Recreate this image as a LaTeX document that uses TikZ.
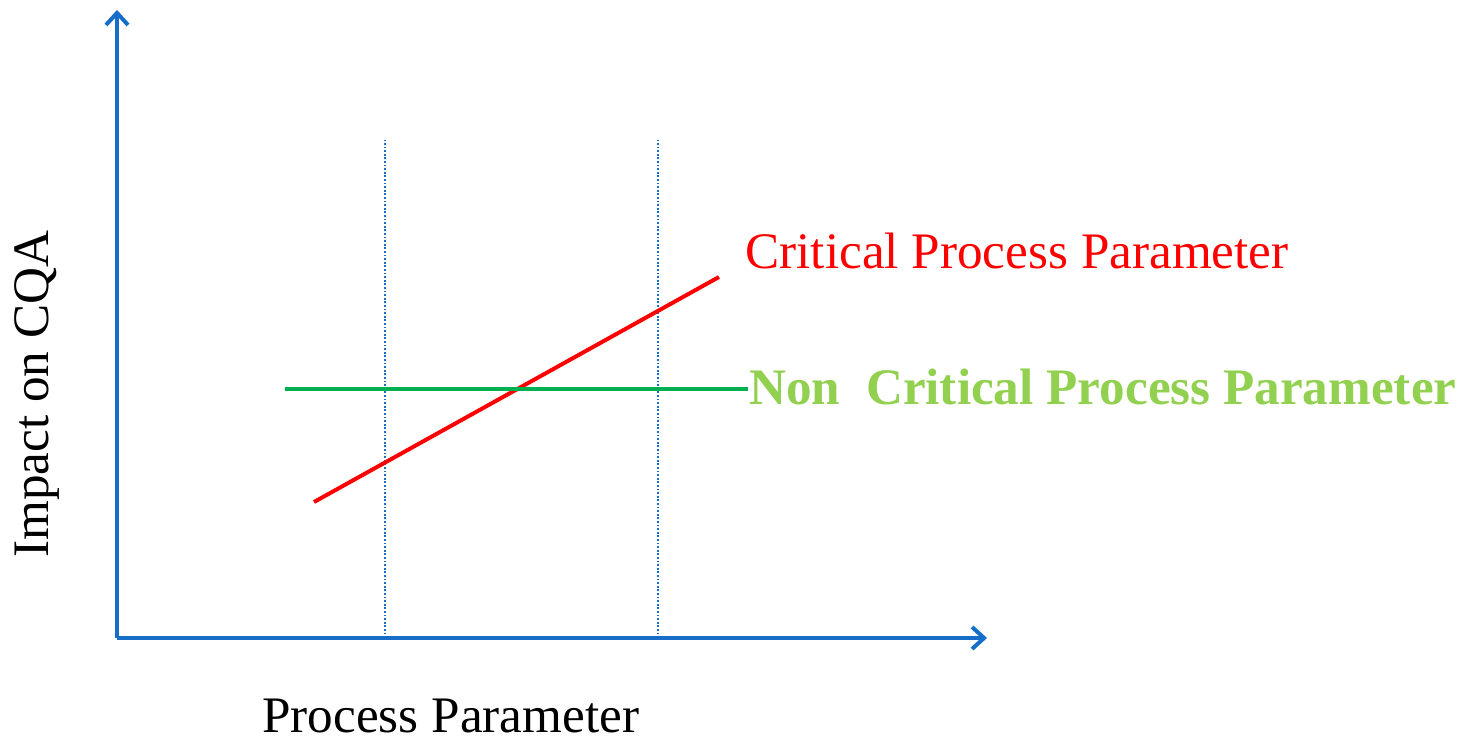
\documentclass[tikz,border=0pt]{standalone}
\usepackage{fontspec}
\setmainfont{Liberation Serif}
\usetikzlibrary{arrows.meta}
\definecolor{axblue}{RGB}{23,110,200}
\definecolor{cppred}{RGB}{255,0,0}
\definecolor{ncpgreen}{RGB}{0,176,80}
\definecolor{ncptext}{RGB}{146,208,80}
\tikzset{
  axis/.style={axblue, line width=2pt, -{Straight Barb[length=6pt,width=11pt,line width=2pt]}},
  guide/.style={axblue, line width=0.7pt, dash pattern=on 0.9pt off 0.9pt},
  lbl/.style={inner sep=0pt, text depth=0pt, font=\fontsize{25.6}{30}\selectfont},
}
\begin{document}
\begin{tikzpicture}[x=0.5pt,y=-0.5pt]
\useasboundingbox (0,0) rectangle (1476,739);
\coordinate (O) at (117,638);
\coordinate (ytop) at (117,10);
\coordinate (xend) at (987,638);
\coordinate (g1b) at (385,638);
\coordinate (g1t) at (385,140);
\coordinate (g2b) at (658,638);
\coordinate (g2t) at (658,140);
\coordinate (r1) at (314,502);
\coordinate (r2) at (719,277);
\coordinate (n1) at (285,389);
\coordinate (n2) at (748,389);
\draw[guide] (g1b) -- (g1t);
\draw[guide] (g2b) -- (g2t);
\draw[axis] (O) -- (ytop);
\draw[axis] (O) -- (xend);
\draw[cppred, line width=2pt] (r1) -- (r2);
\draw[ncpgreen, line width=2pt] (n1) -- (n2);
\node[lbl, text=cppred, anchor=base west] (cpp) at (745,268) {Critical Process Parameter};
\node[lbl, text=ncptext, anchor=base west, font=\fontsize{25.6}{30}\selectfont\bfseries] (ncp) at (749,404) {Non\ \ Critical Process Parameter};
\node[lbl, rotate=90, anchor=base west] (ylab) at (48,558) {Impact on CQA};
\node[lbl, anchor=base west] (xlab) at (262,732) {Process Parameter};
\end{tikzpicture}
\end{document}
